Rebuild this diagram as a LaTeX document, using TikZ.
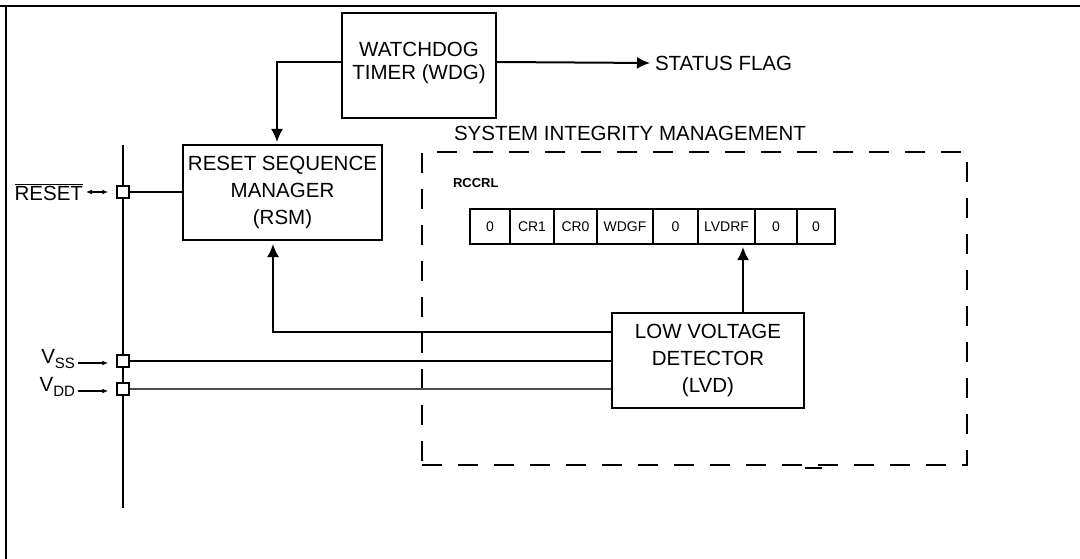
\documentclass[tikz,border=0pt]{standalone}
\usepackage{fontspec}
\setmainfont{Liberation Sans}
\usetikzlibrary{arrows.meta,positioning,calc}

\newcommand{\lowsub}[1]{\raisebox{-0.5ex}{\fontsize{15}{15}\selectfont #1}}

\begin{document}
\begin{tikzpicture}[x = 1pt, y = -1pt, > = {Latex[length = 13pt, width = 12pt]}, line width = 2pt, font = \fontsize{20.5}{27}\selectfont]
    \tikzset{
      block/.style = {draw, rectangle, align = center, inner sep = 0pt},
      pin/.style = {draw, fill = white, minimum size = 12pt, inner sep = 0pt, line width = 1.5pt},
      cell/.style = {draw, minimum height = 35pt, inner sep = 0pt, outer sep = 0pt, font = \fontsize{14}{14}\selectfont},
      simbox/.style = {draw, dash pattern = on 20pt off 16pt},
      thinarrow/.style = {line width = 1.2pt, > = {Latex[length = 6pt, width = 5pt]}, shorten > = 8pt},
    }
    \useasboundingbox (0, 0) rectangle (1080, 559);

    % frame
    \draw [line width = 2.5pt] (0, 6) -- (1080, 6);
    \draw (6, 6) -- (6, 559);

    % blocks
    \node [block, minimum width = 154pt, minimum height = 105pt, text depth = 9.5pt, font = \fontsize{20.5}{23}\selectfont] (wdg) at (419, 65.5) {WATCHDOG\\TIMER (WDG)};
    \node [block, minimum width = 199pt, minimum height = 95pt] (rsm) at (282.5, 192.5) {RESET SEQUENCE\\MANAGER\\(RSM)};
    \node [block, minimum width = 192pt, minimum height = 95pt] (lvd) at (708, 360.5) {LOW VOLTAGE\\DETECTOR\\(LVD)};
    \node [anchor = west, inner sep = 2pt] (status) at (652, 63) {STATUS FLAG};

    % system integrity management
    \node [simbox, minimum width = 545pt, minimum height = 313pt] (sim) at (694.5, 308.5) {};
    \node [anchor = west, inner sep = 0pt] (simlbl) at (453, 133) {SYSTEM INTEGRITY MANAGEMENT};
    \draw (805, 468) -- (822, 468);

    % RCCRL register
    \node [anchor = west, inner sep = 0pt, font = \bfseries\fontsize{13}{13}\selectfont] (rccrl) at (452, 183) {RCCRL};
    \node [cell, minimum width = 40pt] (b7) at (490, 226.5) {0};
    \node [cell, minimum width = 44pt, right = 0pt of b7] (b6) {CR1};
    \node [cell, minimum width = 43pt, right = 0pt of b6] (b5) {CR0};
    \node [cell, minimum width = 56pt, right = 0pt of b5] (b4) {WDGF};
    \node [cell, minimum width = 45pt, right = 0pt of b4] (b3) {0};
    \node [cell, minimum width = 57pt, right = 0pt of b3] (b2) {LVDRF};
    \node [cell, minimum width = 42pt, right = 0pt of b2] (b1) {0};
    \node [cell, minimum width = 38pt, right = 0pt of b1] (b0) {0};

    % pins and bus
    \coordinate (bustop) at (123, 145);
    \coordinate (busbot) at (123, 508);
    \draw (bustop) -- (busbot);
    \node [pin] (pinrst) at (123, 192) {};
    \node [pin] (pinvss) at (123, 361) {};
    \node [pin] (pinvdd) at (123, 389) {};

    \node [anchor = east, inner sep = 2pt] (rstlbl) at (86, 192) {$\overline{\mbox{RESET}}$};
    \node [anchor = base east, inner sep = 2pt] (vsslbl) at (78, 363) {V\lowsub{SS}};
    \node [anchor = base east, inner sep = 2pt] (vddlbl) at (78, 391) {V\lowsub{DD}};

    \draw [thinarrow, <->] (rstlbl) -- (pinrst);
    \draw [thinarrow, ->] (vsslbl.base east) -- (vsslbl.base east -| pinvss.west);
    \draw [thinarrow, ->] (vddlbl.base east) -- (vddlbl.base east -| pinvdd.west);

    % connections
    \draw (pinrst.east) -- (pinrst.east -| rsm.west);
    \draw (pinvss.east) -- (pinvss.east -| lvd.west);
    \draw [line width = 1.2pt, black!70] (pinvdd.east) -- (pinvdd.east -| lvd.west);

    \draw [->, shorten > = 2pt] ($(wdg.north west) + (0, 50)$) -| ($(rsm.north) + (-5.5, 0)$);
    \draw [->, shorten > = 2pt] ($(wdg.north east) + (0, 50)$) -- (status.west);
    \draw [->, shorten > = 3pt] ($(lvd.north west) + (0, 20)$) -| ($(rsm.south) + (-9.5, 0)$);

    \coordinate (lvdup) at ($(lvd.north) + (35, 0)$);
    \draw [->, shorten > = 3pt] (lvdup) -- (lvdup |- b2.south);
\end{tikzpicture}
\end{document}
